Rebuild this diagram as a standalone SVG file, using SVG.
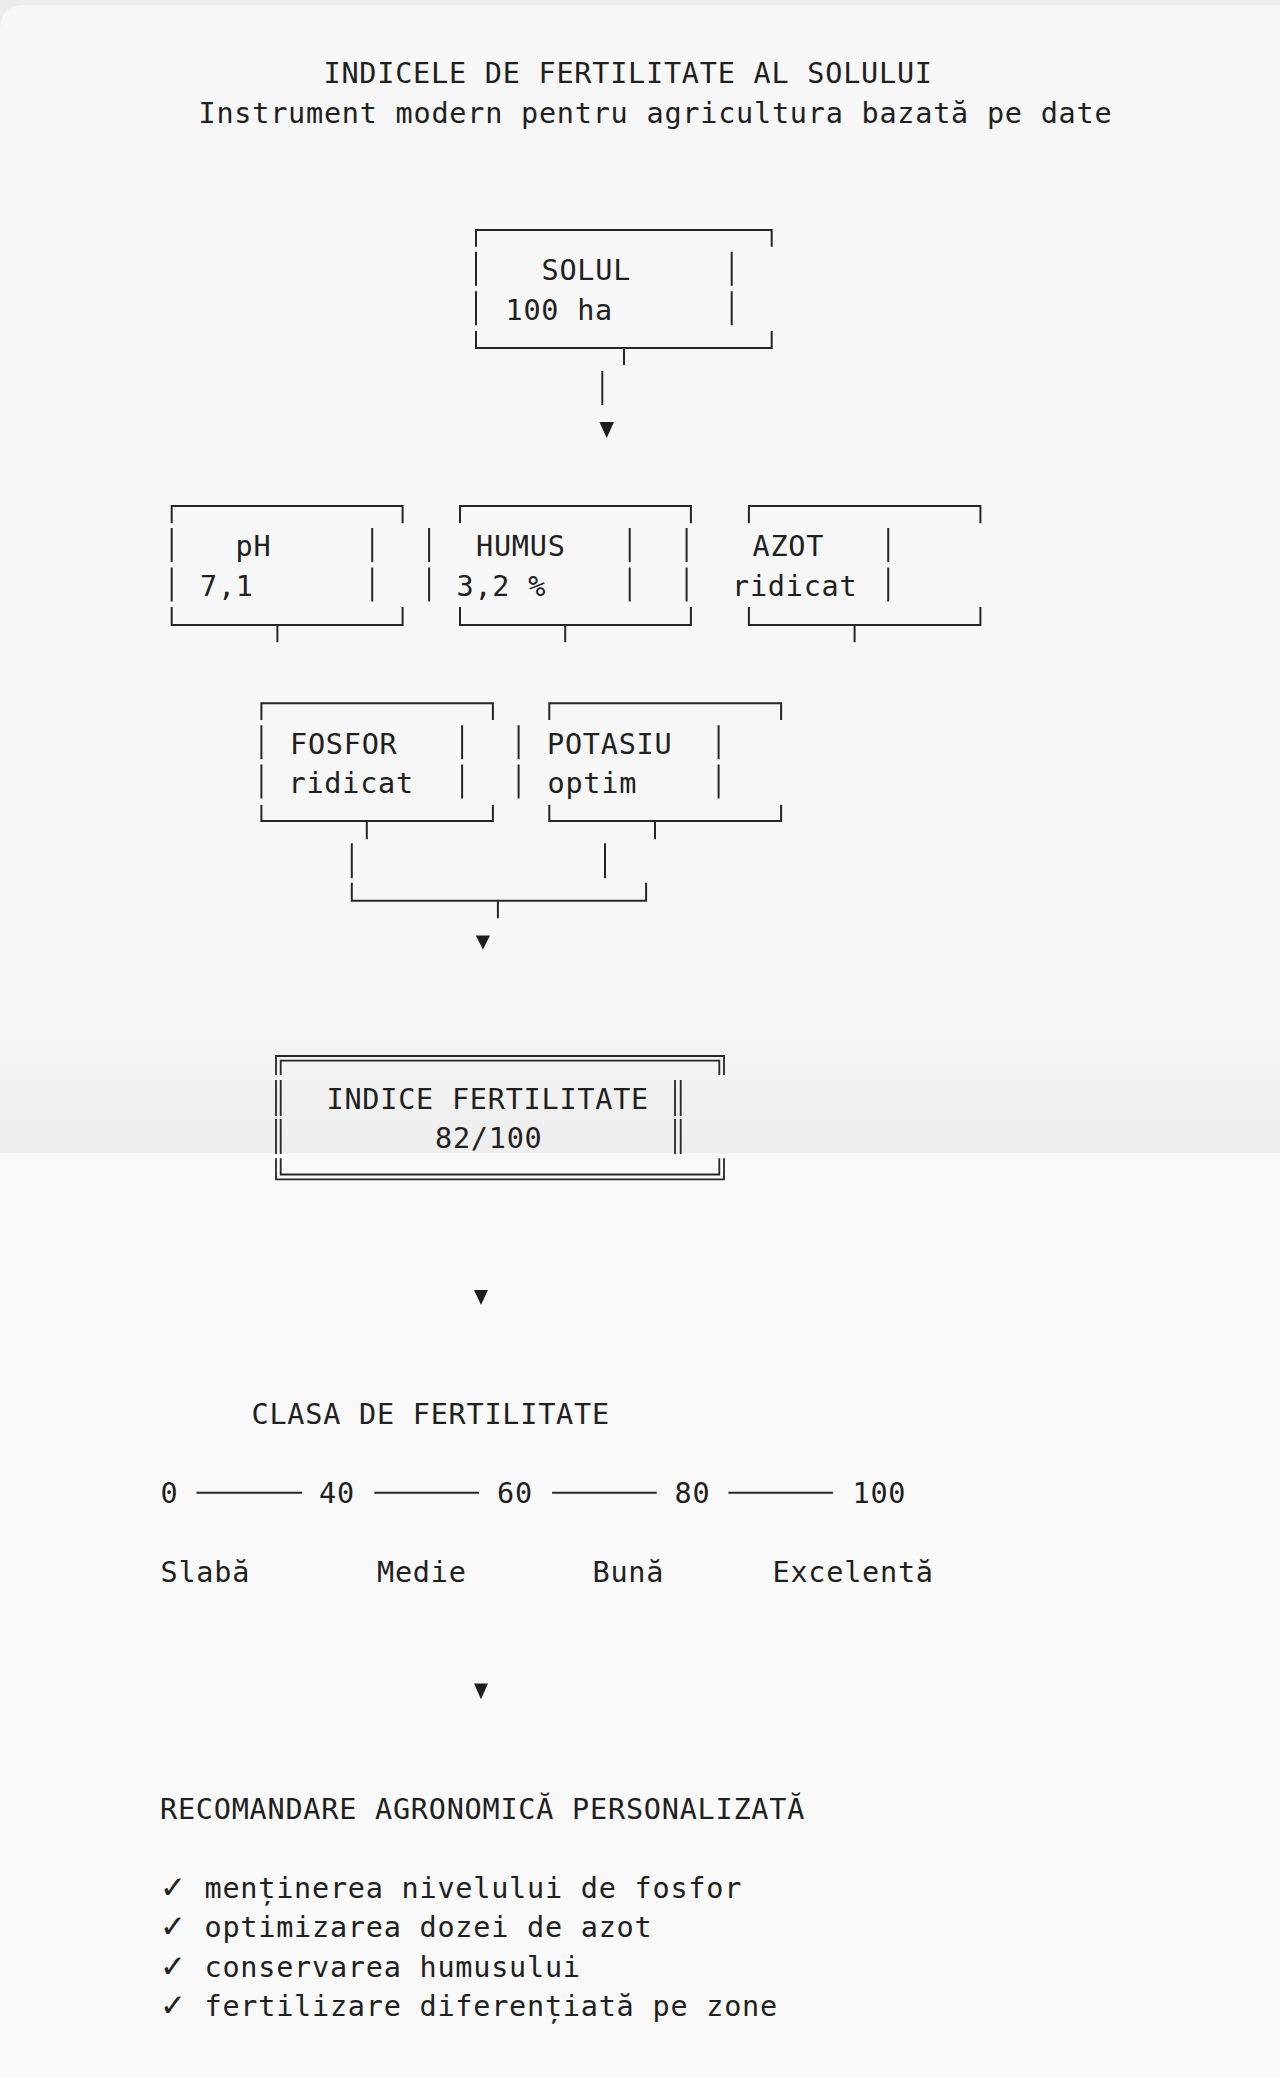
<svg xmlns="http://www.w3.org/2000/svg" width="1280" height="2078" viewBox="0 0 1280 2078">
<defs>
<linearGradient id="band" x1="0" y1="0" x2="0" y2="1">
<stop offset="0" stop-color="#f7f7f7"/>
<stop offset="1" stop-color="#ededed"/>
</linearGradient>
<style>
.t{font-family:"DejaVu Sans Mono","Liberation Mono",monospace;font-size:28.5px;letter-spacing:0.76px;fill:#202020}
.ck{font-family:"DejaVu Sans","Noto Sans",sans-serif;font-size:31px;letter-spacing:0}
.b{fill:none;stroke:#262626;stroke-width:2}
.d{fill:none;stroke:#262626;stroke-width:1.8}
.a{fill:#1e1e1e}
</style>
</defs>
<rect x="0" y="0" width="1280" height="2078" fill="#f7f7f7"/>
<rect x="0" y="0" width="1280" height="30" fill="#ececec"/>
<path d="M0,30 Q0,5 25,5 H1280 V40 H0 Z" fill="#f7f7f7"/>
<rect x="0" y="1000" width="1280" height="153" fill="url(#band)"/>
<rect x="0" y="1153" width="1280" height="925" fill="#f9f9f9"/>

<g id="title">
<text class="t" x="323.5" y="83">INDICELE DE FERTILITATE AL SOLULUI</text>
<text class="t" x="198.5" y="122.5">Instrument modern pentru agricultura bazată pe date</text>
</g>

<g id="node-solul">
<path class="b" d="M476,246.7 V230 H771.7 V246.7"/>
<path class="b" d="M476,251.7 V285.7 M476,291.2 V325.2 M731.7,251.7 V285.7 M731.7,291.2 V325.2"/>
<path class="b" d="M476,331 V348 H771.7 V331 M624,348 V365"/>
<text class="t" x="541.5" y="280.3">SOLUL</text>
<text class="t" x="505.5" y="319.7">100 ha</text>
</g>

<g id="node-ph">
<path class="b" d="M171.7,523.3 V506 H402.6 V523.3"/>
<path class="b" d="M171.7,528 V562 M171.7,567.4 V601.4 M372.2,528 V562 M372.2,567.4 V601.4"/>
<path class="b" d="M171.7,607 V625 H402.6 V607 M277.4,625 V642.3"/>
<text class="t" x="235.5" y="556.4">pH</text>
<text class="t" x="200" y="595.9">7,1</text>
</g>

<g id="node-humus">
<path class="b" d="M460,523.3 V506 H690.9 V523.3"/>
<path class="b" d="M429.1,528 V562 M429.1,567.4 V601.4 M629.7,528 V562 M629.7,567.4 V601.4"/>
<path class="b" d="M460,607 V625 H690.9 V607 M565.2,625 V642.3"/>
<text class="t" x="476" y="556.4">HUMUS</text>
<text class="t" x="456.5" y="595.9">3,2 %</text>
</g>

<g id="node-azot">
<path class="b" d="M748.9,523.3 V506 H980.4 V523.3"/>
<path class="b" d="M686.6,528 V562 M686.6,567.4 V601.4 M888.2,528 V562 M888.2,567.4 V601.4"/>
<path class="b" d="M748.9,607 V625 H980.4 V607 M854.6,625 V642.3"/>
<text class="t" x="752.5" y="556.4">AZOT</text>
<text class="t" x="732" y="595.9">ridicat</text>
</g>

<g id="node-fosfor">
<path class="b" d="M261.4,720 V703.3 H492.9 V720"/>
<path class="b" d="M261.4,725.2 V759.2 M261.4,764.6 V798.6 M462.1,725.2 V759.2 M462.1,764.6 V798.6"/>
<path class="b" d="M261.4,805 V821 H492.9 V805 M366.8,821 V839.3"/>
<text class="t" x="290" y="753.7">FOSFOR</text>
<text class="t" x="288.5" y="793.1">ridicat</text>
</g>

<g id="node-potasiu">
<path class="b" d="M549.3,720 V703.3 H781.1 V720"/>
<path class="b" d="M518.6,725.2 V759.2 M518.6,764.6 V798.6 M718.6,725.2 V759.2 M718.6,764.6 V798.6"/>
<path class="b" d="M549.3,805 V821 H781.1 V805 M655,821 V839.3"/>
<text class="t" x="547" y="753.7">POTASIU</text>
<text class="t" x="547.5" y="793.1">optim</text>
</g>

<g id="node-indice">
<path class="d" d="M276,1075 V1056 H724 V1075 M280.7,1075 V1060.7 H719.3 V1075"/>
<path class="d" d="M276,1080 V1116 M280.7,1080 V1116 M276,1119 V1154 M280.7,1119 V1154 M675,1080 V1116 M680.7,1080 V1116 M675,1119 V1154 M680.7,1119 V1154"/>
<path class="d" d="M276,1158.3 V1179.3 H724 V1158.3 M280.7,1158.3 V1174.5 H719.3 V1158.3"/>
<text class="t" x="326.5" y="1108.7">INDICE FERTILITATE</text>
<text class="t" x="435" y="1148.2">82/100</text>
</g>

<g id="node-clasa">
<text class="t" x="251.5" y="1424.3">CLASA DE FERTILITATE</text>
<text class="t" x="160.5" y="1503.2">0</text>
<text class="t" x="319" y="1503.2">40</text>
<text class="t" x="497" y="1503.2">60</text>
<text class="t" x="674.5" y="1503.2">80</text>
<text class="t" x="852.5" y="1503.2">100</text>
<path class="b" d="M196.5,1492.7 H302.1 M374.3,1492.7 H478.9 M552.1,1492.7 H656.7 M728.4,1492.7 H833"/>
<text class="t" x="160.5" y="1582.1">Slabă</text>
<text class="t" x="377" y="1582.1">Medie</text>
<text class="t" x="592.5" y="1582.1">Bună</text>
<text class="t" x="772.5" y="1582.1">Excelentă</text>
</g>

<g id="node-recomandare">
<text class="t" x="160" y="1818.8">RECOMANDARE AGRONOMICĂ PERSONALIZATĂ</text>
<text class="t" y="1897.7"><tspan class="ck" x="160">✓</tspan><tspan x="204.5">menținerea nivelului de fosfor</tspan></text>
<text class="t" y="1937.2"><tspan class="ck" x="160">✓</tspan><tspan x="204.5">optimizarea dozei de azot</tspan></text>
<text class="t" y="1976.6"><tspan class="ck" x="160">✓</tspan><tspan x="204.5">conservarea humusului</tspan></text>
<text class="t" y="2016"><tspan class="ck" x="160">✓</tspan><tspan x="204.5">fertilizare diferențiată pe zone</tspan></text>
</g>

<g id="connectors">
<path class="b" d="M602.3,371 V405"/>
<polygon class="a" points="599.4,422 614,422 606.7,438"/>
<path class="b" d="M351.8,843.3 V878.3 M605,843.3 V878.3"/>
<path class="b" d="M351.8,882.7 V900.7 H646.1 V882.7 M497.9,900.7 V918.3"/>
<polygon class="a" points="475.8,935.5 490,935.5 482.9,949.5"/>
<polygon class="a" points="474,1290 488,1290 481,1305"/>
<polygon class="a" points="474,1683.5 488,1683.5 481,1699.3"/>
</g>
</svg>
